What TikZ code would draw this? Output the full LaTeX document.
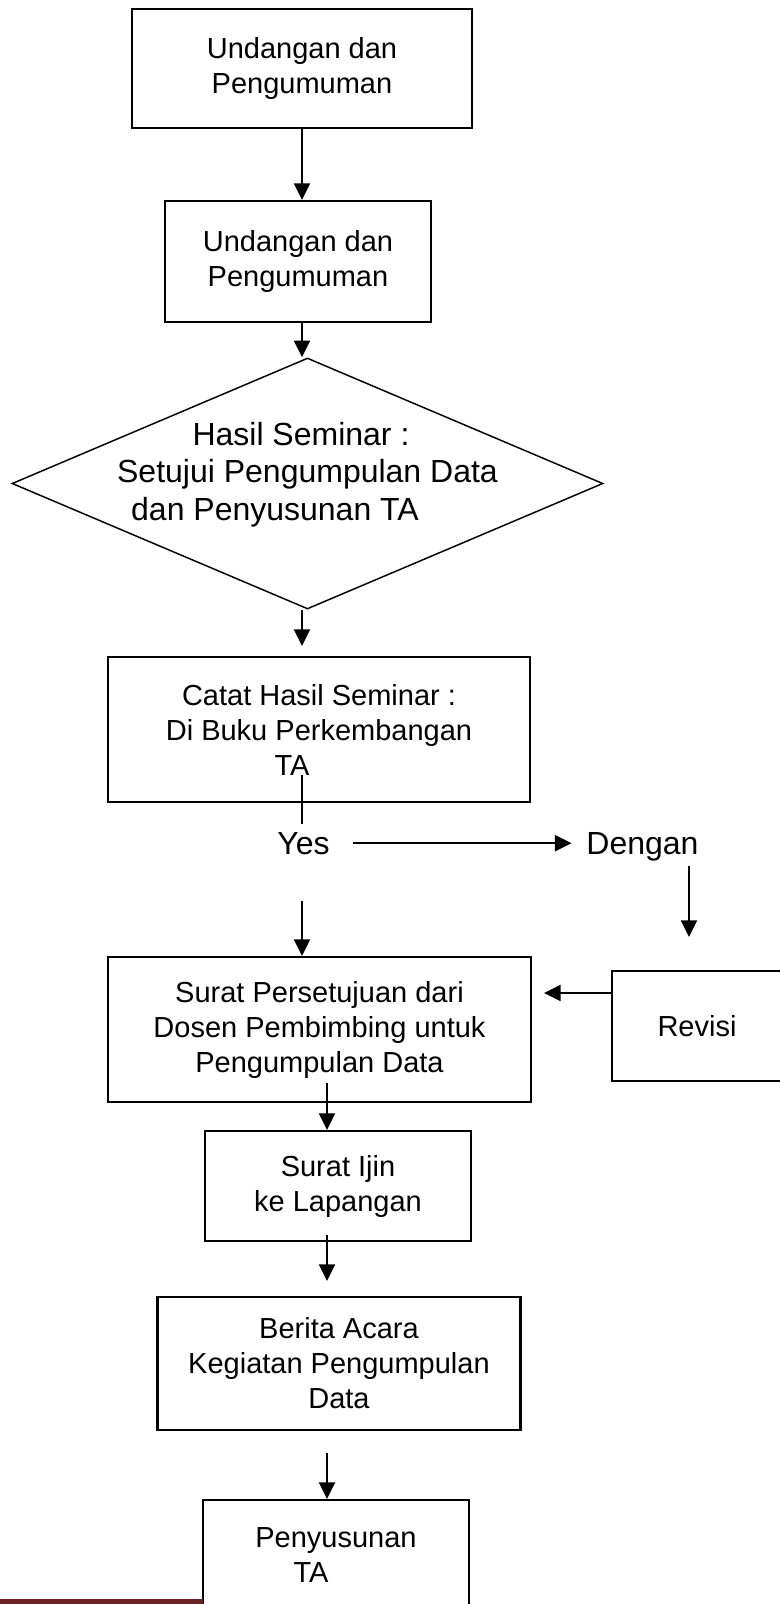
\documentclass[tikz,border=0pt]{standalone}
\usepackage{fontspec}
\setmainfont{Liberation Sans}
\usetikzlibrary{arrows.meta,shapes.geometric}
\definecolor{barred}{RGB}{107,34,34}
\tikzset{
  box/.style={draw, line width=1.6pt, align=center, inner sep=0pt,
    font=\fontsize{21.75}{26.25}\selectfont},
  decision/.style={draw, diamond, line width=1.1pt, inner sep=0pt},
  lbl/.style={inner sep=0pt, align=center, font=\fontsize{24}{28}\selectfont},
  arr/.style={line width=1.7pt, -{Triangle[length=12.5pt,width=12pt]}},
}
\begin{document}
\begin{tikzpicture}[x=0.75pt,y=-0.75pt]
   \useasboundingbox (0,0) rectangle (779,1604);
   \node[box, minimum width=255pt, minimum height=89.25pt] (undangan) at (302,68.5)
     {Undangan dan\\Pengumuman};
   \node[box, minimum width=199.5pt, minimum height=90.75pt] (undangan2) at (298,261.5)
     {Undangan dan\\Pengumuman};
   \node[decision, minimum width=443.25pt, minimum height=188.25pt] (hasil) at (307.5,483.5) {};
   \node[lbl] (hasiltext) at (307.5,474.5)
     {Hasil Seminar :\hspace*{9.75pt}\\Setujui Pengumpulan Data\hspace*{18.75pt}\\dan Penyusunan TA\hspace*{48.75pt}};
   \node[box, minimum width=316.5pt, minimum height=108.75pt] (catat) at (319,729.5)
     {Catat Hasil Seminar :\\Di Buku Perkembangan\\TA\hspace*{40.5pt}};
   \node[lbl, anchor=base] (yes) at (303.5,854) {Yes};
   \node[lbl, anchor=base] (dengan) at (642.5,854) {Dengan};
   \node[box, minimum width=317.25pt, minimum height=108.75pt] (setuju) at (319.5,1029.5)
     {Surat Persetujuan dari\\Dosen Pembimbing untuk\\Pengumpulan Data};
   \node[box, minimum width=127.5pt, minimum height=82.5pt] (revisi) at (697,1026) {Revisi};
   \node[box, minimum width=199.5pt, minimum height=82.5pt] (ijin) at (338,1186)
     {Surat Ijin\\ke Lapangan};
   \node[box, minimum width=272.25pt, minimum height=99.75pt] (berita) at (339,1363.5)
     {Berita Acara\\Kegiatan Pengumpulan\\Data};
   \node[box, minimum width=199.5pt, minimum height=82.5pt] (susun) at (336,1555)
     {Penyusunan\\TA\hspace*{37.5pt}};

   \coordinate (ta) at (302,775);
   \coordinate (ys) at (302,901);
   \coordinate (dn) at (689,937);
   \coordinate (s4) at (327,1083);
   \coordinate (s5) at (327,1235);
   \coordinate (s6) at (327,1453);

   \draw[arr] (undangan.south) -- (undangan.south |- undangan2.north);
   \draw[arr] (undangan.south |- undangan2.south) -- (undangan.south |- hasil.north);
   \draw[arr, shorten >=7.5pt] (undangan.south |- hasil.south) -- (undangan.south |- catat.north);
   \draw[line width=1pt, shorten >=6pt] (ta) -- (ta |- yes.north);
   \draw[arr, shorten <=17pt, shorten >=11pt] (yes.east) -- (yes.east -| dengan.west);
   \draw[arr, shorten <=4pt] (dengan.south -| dn) -- (dn);
   \draw[arr] (ys) -- (ys |- setuju.north);
   \draw[arr, shorten >=9pt] ([yshift=24.75pt]revisi.west) -- ([yshift=24.75pt]revisi.west -| setuju.east);
   \draw[arr] (s4) -- (s4 |- ijin.north);
   \draw[arr, shorten >=11.25pt] (s5) -- (s5 |- berita.north);
   \draw[arr] (s6) -- (s6 |- susun.north);

   \fill[barred] (0,1599) rectangle (203,1604);
\end{tikzpicture}
\end{document}
